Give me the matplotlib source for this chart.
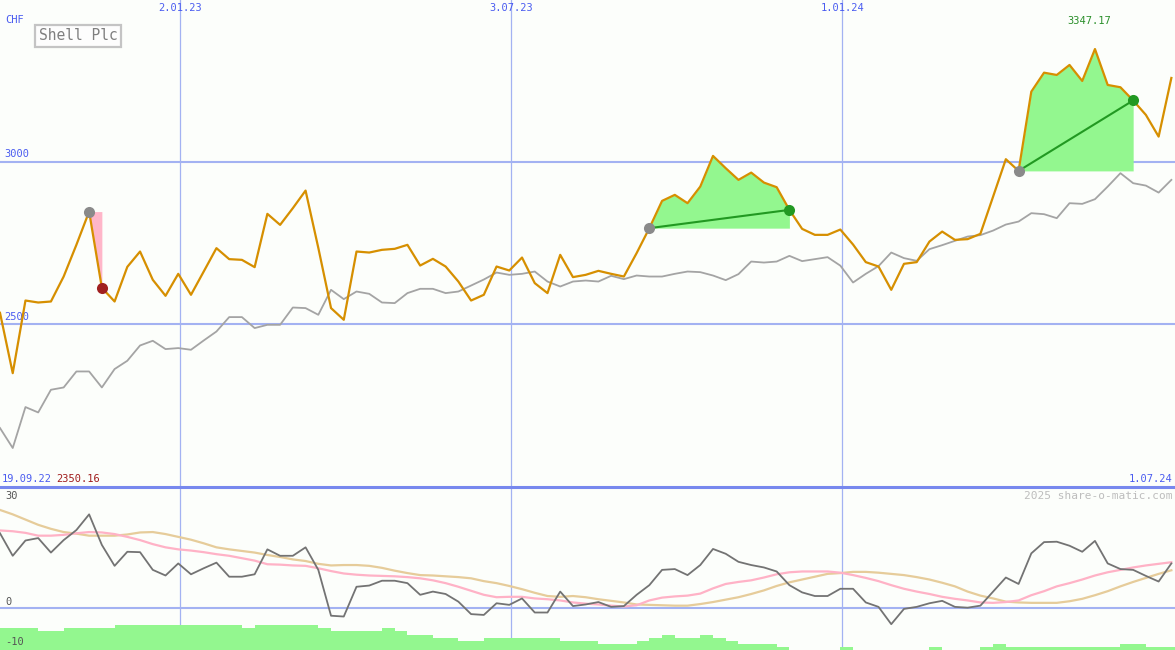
import numpy as np
import matplotlib
matplotlib.use('Agg')
import matplotlib.pyplot as plt
from matplotlib.patches import FancyBboxPatch
import matplotlib.transforms as mtransforms

# ---------------- data ----------------
start_date = np.datetime64('2022-09-25')
n_weeks = 93
dates = start_date + np.arange(n_weeks) * np.timedelta64(7, 'D')

price = [2535.8, 2350.16, 2573.6, 2567.5, 2570.6, 2647.4, 2744.9, 2847.2, 2612.7, 2570.6,
         2677.2, 2724.3, 2637.3, 2588.1, 2655.7, 2591.2, 2662.8, 2734.7, 2700.9, 2698.7,
         2676.3, 2840.2, 2806.3, 2857.7, 2911.8, 2735.6, 2550.3, 2514.3, 2724.3, 2721.2,
         2729.5, 2732.6, 2744.9, 2681.2, 2701.8, 2678.2, 2632.0, 2573.6, 2591.2, 2678.2,
         2665.9, 2705.8, 2627.1, 2596.4, 2714.1, 2645.6, 2652.6, 2664.9, 2655.7, 2647.4,
         2719.3, 2796.2, 2880.1, 2898.6, 2873.0, 2924.1, 3018.4, 2980.6, 2944.7, 2967.1,
         2936.4, 2922.2, 2852.4, 2794.0, 2775.6, 2775.6, 2791.9, 2745.8, 2691.7, 2678.2,
         2606.5, 2686.5, 2691.7, 2755.0, 2785.7, 2760.2, 2762.4, 2778.7, 2893.3, 3008.3,
         2972.3, 3216.1, 3274.5, 3267.4, 3298.2, 3249.0, 3347.17, 3236.7, 3229.6, 3189.0,
         3144.5, 3077.8, 3258.2]

benchmark = [2181.4, 2119.9, 2245.9, 2229.3, 2299.1, 2306.2, 2355.4, 2355.4, 2306.2, 2362.8,
             2388.3, 2435.3, 2449.8, 2424.2, 2427.3, 2422.1, 2450.7, 2478.3, 2522.6, 2522.6,
             2488.8, 2498.9, 2498.9, 2552.1, 2550.3, 2529.7, 2606.5, 2577.9, 2601.3, 2594.2,
             2567.5, 2565.6, 2596.4, 2609.6, 2609.6, 2596.4, 2601.3, 2619.7, 2638.2, 2659.7,
             2652.6, 2655.7, 2662.8, 2632.0, 2616.7, 2632.0, 2635.1, 2632.0, 2649.6, 2639.4,
             2650.5, 2647.4, 2647.4, 2655.7, 2662.8, 2660.9, 2650.5, 2636.3, 2654.8, 2693.5,
             2690.4, 2693.5, 2711.0, 2694.8, 2700.9, 2707.0, 2680.9, 2629.0, 2655.7, 2679.4,
             2721.2, 2704.0, 2695.7, 2731.6, 2743.9, 2757.2, 2770.4, 2774.7, 2788.8, 2807.3,
             2816.5, 2842.3, 2839.2, 2826.9, 2873.0, 2870.9, 2885.3, 2924.1, 2965.3, 2934.5,
             2927.1, 2905.6, 2944.7]

momentum = [18.5, 12.9, 16.7, 17.3, 13.7, 16.8, 19.3, 23.2, 15.6, 10.4,
            13.9, 13.8, 9.4, 8.0, 11.0, 8.3, 9.8, 11.2, 7.7, 7.7,
            8.3, 14.5, 12.9, 12.9, 15.0, 9.4, -2.0, -2.2, 5.2, 5.5,
            6.7, 6.7, 6.1, 3.2, 4.0, 3.4, 1.5, -1.6, -1.8, 1.1,
            0.7, 2.3, -1.2, -1.2, 4.0, 0.4, 0.8, 1.4, 0.2, 0.4,
            3.2, 5.6, 9.4, 9.6, 8.1, 10.6, 14.6, 13.4, 11.4, 10.6,
            10.0, 9.0, 5.6, 3.8, 2.9, 2.9, 4.7, 4.7, 1.3, 0.2,
            -4.1, -0.3, 0.2, 1.1, 1.7, 0.2, 0.0, 0.5, 4.0, 7.5,
            5.9, 13.5, 16.3, 16.4, 15.4, 13.9, 16.6, 11.0, 9.6, 9.4,
            7.9, 6.5, 11.0]

avg_pink = [19.2, 19.0, 18.6, 17.9, 17.9, 18.1, 18.5, 18.8, 18.7, 18.3,
            17.6, 16.8, 15.8, 15.0, 14.5, 14.2, 13.8, 13.3, 12.9, 12.3,
            11.7, 10.8, 10.7, 10.5, 10.4, 9.8, 9.1, 8.5, 8.2, 8.0,
            7.9, 7.8, 7.6, 7.3, 6.8, 6.1, 5.2, 4.2, 3.2, 2.6,
            2.7, 2.7, 2.3, 2.1, 1.8, 1.3, 1.0, 0.8,
            0.5, 0.3, 0.6, 1.8, 2.5, 2.8, 3.0, 3.5, 4.8, 5.9,
            6.4, 6.8, 7.5, 8.3, 8.8, 9.0, 9.0, 9.0, 8.7, 8.1,
            7.4, 6.6, 5.6, 4.7, 4.0, 3.4, 2.7, 2.2, 1.8, 1.3,
            1.2, 1.4, 1.8, 3.1, 4.1, 5.3, 6.1, 7.0, 8.0, 8.8,
            9.4, 10.0, 10.5, 10.9, 11.3]

avg_tan = [24.3, 23.2, 21.9, 20.6, 19.6, 18.8, 18.4, 17.9, 17.9, 17.9,
           18.2, 18.7, 18.8, 18.3, 17.6, 16.9, 16.0, 15.0, 14.5, 14.1,
           13.7, 13.1, 12.6, 12.0, 11.6, 10.9, 10.5, 10.6, 10.6, 10.4,
           9.9, 9.2, 8.6, 8.1, 8.0, 7.8, 7.6, 7.3, 6.6, 6.1,
           5.4, 4.6, 3.7, 2.9, 2.7, 2.9, 2.6, 2.1,
           1.7, 1.3, 0.8, 0.7, 0.6, 0.5, 0.5, 0.9, 1.4, 2.0,
           2.6, 3.4, 4.3, 5.4, 6.3, 7.0, 7.7, 8.4, 8.6, 8.9,
           8.9, 8.7, 8.4, 8.1, 7.6, 7.0, 6.2, 5.3, 4.0, 3.0,
           2.3, 1.5, 1.3, 1.2, 1.2, 1.2, 1.6, 2.2, 3.1, 4.1,
           5.3, 6.4, 7.4, 8.4, 9.3]

volume = ([5.5] * 3 + [4.7] * 2 + [5.5] * 4 + [6.2] * 10 + [5.5] + [6.2] * 5 + [5.5]
          + [4.7] * 4 + [5.5] + [4.7] + [3.7] * 2 + [3.1] * 2 + [2.2] * 2 + [3.1] * 6
          + [2.2] * 3 + [1.5] * 3 + [2.2] + [3.1] + [3.7] + [3.1] * 2 + [3.7] + [3.1]
          + [2.2] + [1.5] * 3 + [0.7] + [0.0] * 4 + [0.7] + [0.0] * 6 + [0.7] + [0.0] * 3
          + [0.7] + [1.5] + [0.7] * 9 + [1.5] * 2 + [0.7] * 3)

grid_dates = ['2023-01-02', '2023-07-03', '2024-01-01']
grid_labels = ['2.01.23', '3.07.23', '1.01.24']
price_levels = [3000, 2500]
level_labels = ['3000', '2500']

# highlighted periods (start index, end index, colour of fill)
periods = [(7, 8, '#ffb6c9', '#a02020'), (51, 62, '#93f78f', '#229922'), (80, 89, '#93f78f', '#229922')]

title = 'Shell Plc'
currency = 'CHF'
start_label = '19.09.22'
end_label = '1.07.24'
min_label = '2350.16'
max_label = '3347.17'
credit = '2025 share-o-matic.com'

# ---------------- figure ----------------
W, H = 1175, 650
bg = '#fcfefb'
grid_c = '#a3b2f2'
blue_txt = '#4a5cf0'
mono = 'DejaVu Sans Mono'

fig = plt.figure(figsize=(W / 100, H / 100), dpi=100, facecolor=bg)
ax = fig.add_axes([0, 163 / H, 1, 487 / H], facecolor=bg)
ax2 = fig.add_axes([0, 0, 1, 163 / H], facecolor=bg)

x = dates.astype('datetime64[D]').astype(float)
x0 = start_date.astype('datetime64[D]').astype(float)
xlim = (x0, x0 + 646)
gx = [np.datetime64(d).astype('datetime64[D]').astype(float) for d in grid_dates]

for a in (ax, ax2):
    a.set_xlim(*xlim)
    for s in a.spines.values():
        s.set_visible(False)
    a.set_xticks([])
    a.set_yticks([])
    for g in gx:
        a.axvline(g, color=grid_c, lw=0.9, zorder=1)

ax.set_ylim(2000, 3498)
ax2.set_ylim(-10.52, 30)

for lv in price_levels:
    ax.axhline(lv, color=grid_c, lw=1.5, zorder=1)

price_a = np.array(price)
# highlighted fills
for (i0, i1, fc, ec) in periods:
    xs = x[i0:i1 + 1]
    ax.fill_between(xs, price_a[i0], price_a[i0:i1 + 1], color=fc, lw=0, zorder=2)

ax.plot(x, benchmark, color='#a4a4a4', lw=1.3, zorder=3)
ax.plot(x, price, color='#d68f00', lw=1.6, zorder=4)

for (i0, i1, fc, ec) in periods:
    if ec == '#229922':
        ax.plot([x[i0], x[i1]], [price[i0], price[i1]], color='#229922', lw=1.5, zorder=5)
    ax.plot(x[i0], price[i0], 'o', color='#8a8a8a', ms=8, mec='none', zorder=6)
    ax.plot(x[i1], price[i1], 'o', color=ec, ms=8, mec='none', zorder=6)

# lower panel
ax2.bar(x, volume, width=7, align='edge', bottom=-10.52, color='#93f78f', lw=0, zorder=1)
ax2.axhline(0, color=grid_c, lw=1.5, zorder=2)
ax2.plot(x, avg_tan, color='#e6cc9a', lw=1.6, zorder=3)
ax2.plot(x, avg_pink, color='#ffb2c6', lw=1.6, zorder=3)
ax2.plot(x, momentum, color='#737373', lw=1.3, zorder=4)
ax2.axhline(30, color='#7788ee', lw=2.2, zorder=5, clip_on=False)

# ---------------- texts ----------------
def px(xp, yp):
    return xp / W, 1 - yp / H

fig.text(*px(5, 20), currency, color=blue_txt, fontsize=7.5, family=mono, va='center', ha='left')
fig.text(*px(78, 36), title, color='#7f7f7f', fontsize=10.5, family=mono, va='center', ha='center',
         bbox=dict(boxstyle='square,pad=0.25', fc='#fdfdfd', ec='#c4c4c4', lw=1.6))

trans = mtransforms.blended_transform_factory(ax.transData, fig.transFigure)
for g, lab in zip(gx, grid_labels):
    ax.text(g, 1 - 8 / H, lab, transform=trans, color=blue_txt, fontsize=7.5, family=mono,
            ha='center', va='center')

for lv, lab in zip(price_levels, level_labels):
    ax.text(x0 + 2.5, lv + 8, lab, color=blue_txt, fontsize=7.5, family=mono, ha='left', va='bottom')

fig.text(*px(2, 479), start_label, color=blue_txt, fontsize=7.5, family=mono, va='center', ha='left')
fig.text(*px(56, 479), min_label, color='#a01c1c', fontsize=7.5, family=mono, va='center', ha='left')
fig.text(*px(1172, 479), end_label, color=blue_txt, fontsize=7.5, family=mono, va='center', ha='right')

imax = int(np.argmax(price_a))
ax.text(x[imax] - 3, 1 - 21 / H, max_label, transform=trans, color='#2a8f2a', fontsize=7.5, family=mono,
        ha='center', va='center')

fig.text(*px(1172, 496), credit, color='#bdbdbd', fontsize=8, family=mono, va='center', ha='right')
fig.text(*px(5, 496), '30', color='#555555', fontsize=7.5, family=mono, va='center', ha='left')
fig.text(*px(5, 602), '0', color='#555555', fontsize=7.5, family=mono, va='center', ha='left')
fig.text(*px(5, 642), '-10', color='#555555', fontsize=7.5, family=mono, va='center', ha='left')

fig.savefig('out.png', dpi=100, facecolor=bg)
